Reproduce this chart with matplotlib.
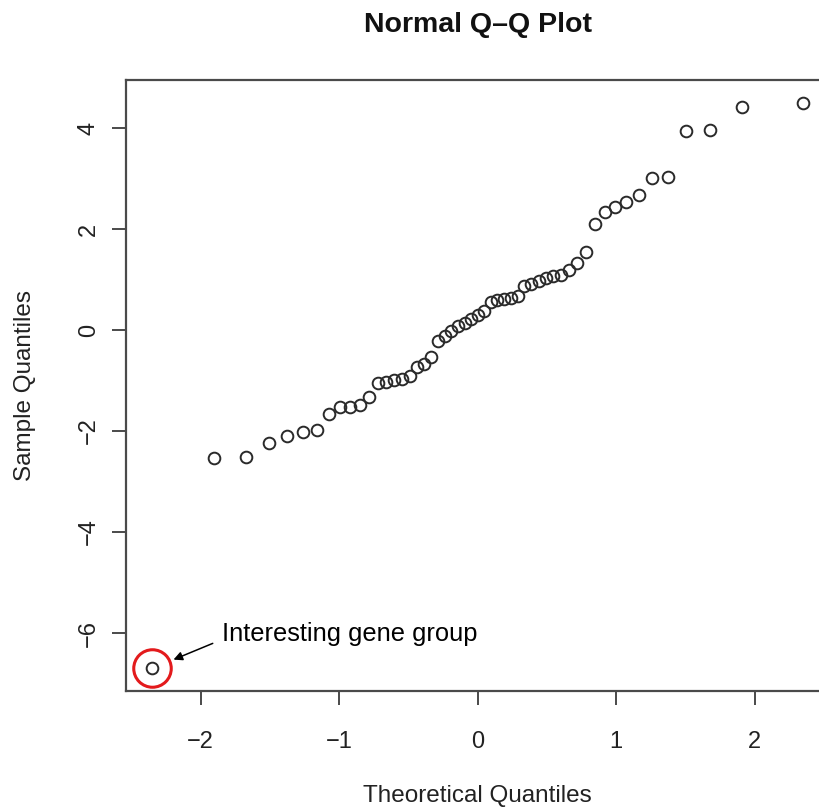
import matplotlib
matplotlib.use("Agg")
import matplotlib.pyplot as plt
from statistics import NormalDist

plt.rcParams['font.family'] = ['Liberation Sans', 'DejaVu Sans']

# Sorted sample values (one per gene group)
sample = [
    -6.70, -2.54, -2.52, -2.24, -2.10, -2.01, -1.99, -1.66, -1.53, -1.53,
    -1.49, -1.32, -1.04, -1.02, -0.99, -0.98, -0.92, -0.73, -0.68, -0.53,
    -0.22, -0.12, -0.02, 0.07, 0.14, 0.22, 0.30, 0.37, 0.55, 0.59,
    0.61, 0.64, 0.67, 0.87, 0.92, 0.97, 1.02, 1.06, 1.09, 1.19,
    1.32, 1.54, 2.10, 2.33, 2.43, 2.54, 2.67, 3.01, 3.02, 3.95,
    3.96, 4.42, 4.50,
]
x_ticks = [-2, -1, 0, 1, 2]
y_ticks = [-6, -4, -2, 0, 2, 4]
title = "Normal Q\u2013Q Plot"
x_label = "Theoretical Quantiles"
y_label = "Sample Quantiles"
note = "Interesting gene group"


def qqnorm(values):
    """Theoretical normal quantiles at plotting positions (i - 0.5) / n."""
    n = len(values)
    nd = NormalDist()
    return [nd.inv_cdf((i + 0.5) / n) for i in range(n)]


theo = qqnorm(sample)

W, H = 820, 807
fig = plt.figure(figsize=(W / 100, H / 100), dpi=100)
# plot region (extends slightly past the right edge of the canvas)
ax = fig.add_axes([126.3 / W, (H - 691) / H, 702.8 / W, 610.9 / H])

axis_col = "#4a4a4a"
ax.plot(theo, sample, linestyle="none", marker="o", markersize=8.4,
        markerfacecolor="none", markeredgecolor="#2a2a2a",
        markeredgewidth=1.4, clip_on=False)
ax.margins(x=0.04, y=0.04)

for side in ("left", "bottom", "top", "right"):
    ax.spines[side].set_color(axis_col)
    ax.spines[side].set_linewidth(1.6)

ax.set_xticks(x_ticks)
ax.set_yticks(y_ticks)
ax.set_xticklabels([f"{t}".replace("-", "\u2212") for t in x_ticks])
ax.set_yticklabels([f"{t}".replace("-", "\u2212") for t in y_ticks],
                   rotation=90, va="center")
ax.tick_params(axis="both", direction="out", length=10, width=1.4,
               color=axis_col, labelsize=17, labelcolor="#222222")
ax.tick_params(axis="x", pad=19)
ax.tick_params(axis="y", pad=9)

ax.set_xlabel(x_label, fontsize=17.5, color="#222222")
ax.xaxis.set_label_coords(0.5, -0.172)
ax.xaxis.label.set_va("center")
ax.set_ylabel(y_label, fontsize=17.5, color="#222222")
ax.yaxis.set_label_coords(-0.144, 0.5)
ax.yaxis.label.set_va("center")

fig.text(477.7 / W, (H - 32) / H, title, fontsize=20.5, fontweight="bold",
         color="#111111", ha="center", va="baseline")

# highlight the outlying group
x0, y0 = theo[0], sample[0]
ax.plot([x0], [y0], linestyle="none", marker="o", markersize=27,
        markerfacecolor="none", markeredgecolor="#e31a1c",
        markeredgewidth=2.2, clip_on=False)
ax.annotate("", xy=(x0, y0), xycoords="data",
            xytext=(43.5, 18), textcoords="offset points",
            arrowprops=dict(arrowstyle="-|>", color="black", lw=1.1,
                            mutation_scale=13, shrinkA=0, shrinkB=16.5))
ax.annotate(note, xy=(x0, y0), xycoords="data",
            xytext=(50, 20), textcoords="offset points",
            ha="left", va="baseline", fontsize=18.4, color="black")

fig.savefig("out.png", dpi=100)
